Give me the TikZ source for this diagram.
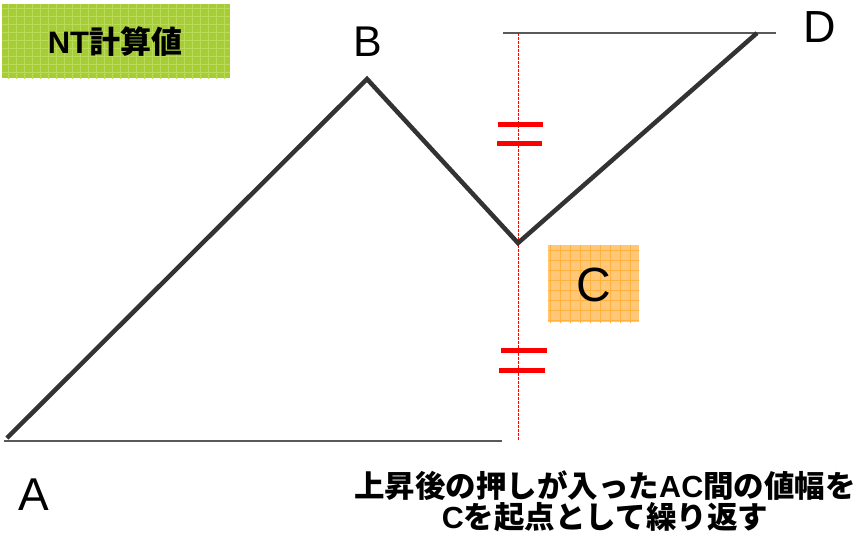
\documentclass[tikz,border=0pt]{standalone}
\usepackage{fontspec}
\setmainfont{Liberation Sans}
\newfontfamily\cjk{Noto Sans CJK JP}
\newfontfamily\lat{Liberation Sans}
\definecolor{boxgreen}{HTML}{A6CD38}
\definecolor{gridgreen}{HTML}{BADB58}
\definecolor{boxorange}{HTML}{FFC878}
\definecolor{gridorange}{HTML}{FFB23E}
\definecolor{zig}{HTML}{333333}
\definecolor{eqred}{HTML}{FF0000}
\tikzset{
  zigline/.style={draw=zig, line width=4.5pt, line join=miter},
  baseline/.style={draw=black!65, line width=1.5pt},
  guide/.style={draw=eqred, line width=1pt, dash pattern=on 2.5pt off 1.5pt},
  eqbar/.style={draw=eqred, line width=5pt},
  ptlabel/.style={inner sep=0pt, font=\fontsize{45}{45}\selectfont},
  jtext/.style={inner sep=0pt, align=center, font=\cjk\bfseries\fontsize{30.5}{31}\selectfont},
}
\begin{document}
\begin{tikzpicture}[x=1pt,y=-1pt]
\useasboundingbox (0,0) rectangle (864,541);
% green title box
\fill[boxgreen] (2,4) rectangle (230,78);
\begin{scope}
\clip (2,4) rectangle (230,78);
\draw[gridgreen, line width=0.8pt, step=8pt] (2,4) grid (232,80);
\end{scope}
\node[jtext, font=\cjk\bfseries\fontsize{31}{31}\selectfont] (title) at (115,42) {{\lat\bfseries NT}計算値};
% orange C box
\fill[boxorange] (548,245) rectangle (639,322);
\begin{scope}
\clip (548,245) rectangle (639,322);
\draw[gridorange, line width=0.6pt, step=10pt] (540,240) grid (640,330);
\end{scope}
\node[ptlabel, font=\fontsize{48}{48}\selectfont] (lc) at (594,285) {C};
% points
\coordinate (A) at (7,438);
\coordinate (B) at (367,79);
\coordinate (C) at (518,243);
\coordinate (D) at (757,33);
\coordinate (bl) at (4,441);
\coordinate (br) at (502,441);
\coordinate (tl) at (503,33);
\coordinate (tr) at (776,33);
\coordinate (gt) at (518,33);
\coordinate (gb) at (518,441);
% guides
\draw[baseline] (bl) -- (br);
\draw[baseline, line width=1.2pt] (tl) -- (tr);
\draw[guide] (gt) -- (gb);
% zigzag
\draw[zigline] (A) -- (B) -- (C) -- (D);
% equals signs
\coordinate (e1a) at (498,124); \coordinate (e1b) at (543,124);
\coordinate (e2a) at (497,143); \coordinate (e2b) at (542,143);
\coordinate (e3a) at (501,350); \coordinate (e3b) at (547,350);
\coordinate (e4a) at (499,370); \coordinate (e4b) at (545,370);
\draw[eqbar] (e1a) -- (e1b);
\draw[eqbar] (e2a) -- (e2b);
\draw[eqbar] (e3a) -- (e3b);
\draw[eqbar] (e4a) -- (e4b);
% labels
\node[ptlabel, font=\fontsize{46}{46}\selectfont] (la) at (34,495) {A};
\node[ptlabel, font=\fontsize{43}{43}\selectfont] (lb) at (368,42) {B};
\node[ptlabel, font=\fontsize{45}{45}\selectfont] (ld) at (820,27) {D};
\node[jtext] (note) at (605,501) {上昇後の押しが入った{\lat\bfseries AC}間の値幅を\\{\lat\bfseries C}を起点として繰り返す};
\end{tikzpicture}
\end{document}
